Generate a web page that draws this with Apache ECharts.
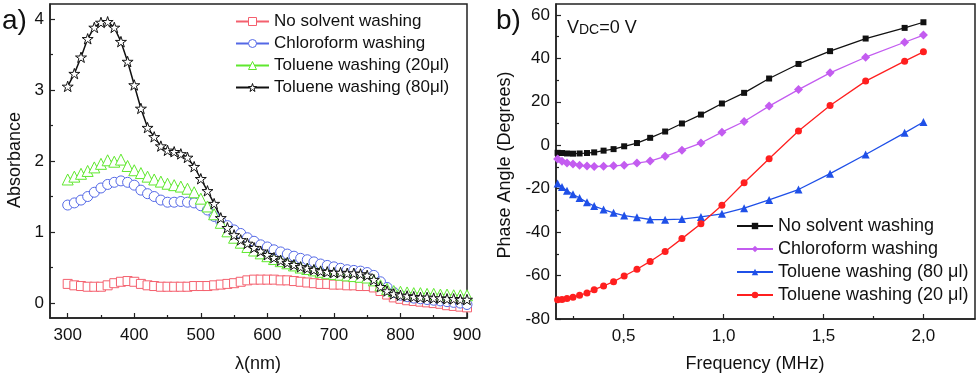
<!DOCTYPE html>
<html><head><meta charset="utf-8">
<script src="https://cdn.jsdelivr.net/npm/echarts@6/dist/echarts.min.js"></script>
<style>html,body{margin:0;padding:0;background:#fff}#c{width:980px;height:380px}</style>
</head><body><div id="c"></div>
<script>
// ---------- Panel a data ----------
const wavelength = [300,310,320,330,340,350,360,370,380,390,400,410,420,430,440,450,460,470,480,490,500,510,520,530,540,550,560,570,580,590,600,610,620,630,640,650,660,670,680,690,700,710,720,730,740,750,760,770,780,790,800,810,820,830,840,850,860,870,880,890,900];
const absNoSolvent = [0.27,0.25,0.24,0.23,0.23,0.23,0.25,0.28,0.30,0.31,0.30,0.27,0.25,0.24,0.23,0.23,0.23,0.23,0.23,0.24,0.24,0.24,0.25,0.26,0.27,0.28,0.30,0.32,0.33,0.33,0.33,0.33,0.32,0.32,0.31,0.30,0.29,0.28,0.27,0.27,0.26,0.26,0.25,0.25,0.24,0.24,0.22,0.17,0.12,0.08,0.06,0.04,0.03,0.02,0.01,0.00,-0.01,-0.03,-0.04,-0.05,-0.06];
const absChloroform = [1.38,1.41,1.45,1.50,1.56,1.62,1.67,1.70,1.72,1.70,1.66,1.59,1.54,1.50,1.45,1.42,1.42,1.43,1.42,1.41,1.37,1.31,1.22,1.15,1.09,1.03,0.98,0.92,0.87,0.82,0.79,0.75,0.72,0.69,0.66,0.63,0.61,0.58,0.55,0.53,0.51,0.49,0.47,0.46,0.45,0.43,0.39,0.30,0.22,0.15,0.11,0.09,0.07,0.06,0.05,0.04,0.03,0.02,0.01,0.00,-0.02];
const absToluene20 = [1.74,1.78,1.82,1.86,1.91,1.96,2.01,1.99,2.02,1.93,1.87,1.83,1.78,1.74,1.71,1.68,1.66,1.64,1.61,1.56,1.47,1.36,1.25,1.13,1.01,0.92,0.85,0.79,0.74,0.70,0.66,0.62,0.59,0.56,0.53,0.50,0.48,0.46,0.44,0.42,0.41,0.40,0.39,0.38,0.37,0.36,0.32,0.25,0.20,0.17,0.16,0.15,0.14,0.14,0.13,0.13,0.12,0.12,0.11,0.11,0.11];
const absToluene80 = [3.05,3.23,3.46,3.72,3.88,3.95,3.96,3.88,3.68,3.40,3.07,2.74,2.47,2.34,2.21,2.15,2.13,2.10,2.05,1.92,1.75,1.58,1.40,1.20,1.06,0.96,0.89,0.84,0.78,0.73,0.68,0.64,0.60,0.57,0.54,0.51,0.49,0.47,0.45,0.44,0.43,0.43,0.42,0.42,0.41,0.39,0.33,0.23,0.17,0.13,0.11,0.10,0.09,0.08,0.08,0.07,0.07,0.06,0.06,0.05,0.05];
const legendA = ['No solvent washing','Chloroform washing','Toluene washing (20\u03bcl)','Toluene washing (80\u03bcl)'];
const xTicksA = [300,400,500,600,700,800,900];
const xMinorA = [350,450,550,650,750,850];
const yTicksA = [0,1,2,3,4];
const yMinorA = [0.5,1.5,2.5,3.5];

// ---------- Panel b data ----------
const frequency = [0.17,0.192,0.217,0.247,0.28,0.317,0.353,0.40,0.45,0.503,0.567,0.633,0.708,0.792,0.887,0.992,1.103,1.228,1.375,1.533,1.711,1.906,2.0];
const phaseNoSolvent = [-3.5,-3.6,-3.8,-3.9,-3.8,-3.6,-3.3,-2.5,-1.8,-0.5,1.0,3.4,6.3,10,14.1,19.2,24.1,30.7,37.4,43.3,49.1,54,56.6];
const phaseChloroform = [-6.3,-7.4,-8.2,-8.7,-9.2,-9.6,-9.8,-9.7,-9.5,-9.2,-8.2,-7.3,-5.1,-2.3,1.0,6,10.9,18,25.6,33.3,40.5,47.4,50.7];
const phaseToluene80 = [-17.6,-19.2,-21,-22.6,-24.3,-26.3,-28,-29.6,-31.1,-32.4,-33.2,-34.2,-34.3,-34,-33,-31.6,-29,-25.2,-20.4,-13.1,-4.3,5.7,10.7];
const phaseToluene20 = [-71.1,-71,-70.6,-70,-69.1,-68,-66.5,-64.8,-62.8,-60.2,-57.1,-53.5,-48.9,-43,-36.2,-27.6,-17.3,-6.2,6.5,18.3,29.5,38.7,43];
const legendB = ['No solvent washing','Chloroform washing','Toluene washing (80 \u03bcl)','Toluene washing (20 \u03bcl)'];
const xTicksB = [0.5,1.0,1.5,2.0];
const xMinorB = [0.25,0.75,1.25,1.75];
const yTicksB = [-80,-60,-40,-20,0,20,40,60];
const yMinorB = [-70,-50,-30,-10,10,30,50];

const FONT = '"Liberation Sans", Arial, sans-serif';
const star = 'path://M0,-1L0.2245,-0.309L0.951,-0.309L0.363,0.118L0.588,0.809L0,0.382L-0.588,0.809L-0.363,0.118L-0.951,-0.309L-0.2245,-0.309Z';
const pair = (xs, ys) => xs.map((x, i) => [x, ys[i]]);
const idsA = ['a0','a1','a2','a3'], idsB = ['b0','b1','b2','b3'];
const nameMap = {};
idsA.forEach((k,i)=>nameMap[k]=legendA[i]);
idsB.forEach((k,i)=>nameMap[k]=legendB[i]);

function vAxis(grid, pos, min, max, ticks, labels, fmt) {
  return {
    type: 'value', gridIndex: grid, position: pos, min: min, max: max,
    axisLine: {show: true, onZero: false, lineStyle: {color: '#222', width: 1.5}},
    axisTick: {show: true, inside: true, length: 5, customValues: ticks, lineStyle: {color: '#222', width: 1.2}},
    axisLabel: {show: true, customValues: labels, color: '#111', fontSize: 17, fontFamily: FONT, margin: pos === 'bottom' ? 9 : 6, formatter: fmt},
    splitLine: {show: false}
  };
}
function minorAxis(grid, pos, min, max, ticks) {
  return {
    type: 'value', gridIndex: grid, position: pos, min: min, max: max,
    axisLine: {show: false, onZero: false},
    axisTick: {show: true, inside: true, length: 3, customValues: ticks, lineStyle: {color: '#222', width: 1.2}},
    axisLabel: {show: false}, splitLine: {show: false}
  };
}
const commaFmt = v => v.toFixed(1).replace('.', ',');

const styleA = [
  {sym: 'rect', size: 9, c: '#f4606e', lw: 1},
  {sym: 'circle', size: 10, c: '#5468e6', lw: 1},
  {sym: 'triangle', size: 11, c: '#5fe82e', lw: 1},
  {sym: star, size: 11, c: '#111', lw: 1.5}
];
const legendDataA = idsA.map((id, i) => ({name: id,
  itemStyle: {color: '#fff', borderColor: styleA[i].c, borderWidth: 1}}));

const chart = echarts.init(document.getElementById('c'), null, {renderer: 'canvas'});
chart.setOption({
  animation: false,
  textStyle: {fontFamily: FONT},
  grid: [
    {left: 50, top: 4, width: 417, height: 314, show: true, borderColor: '#222', borderWidth: 1.5, backgroundColor: 'transparent'},
    {left: 556, top: 4, width: 419, height: 315, show: true, borderColor: '#222', borderWidth: 1.5, backgroundColor: 'transparent'}
  ],
  xAxis: [
    vAxis(0, 'bottom', 273.4, 900, xTicksA, xTicksA),
    minorAxis(0, 'bottom', 273.4, 900, xMinorA),
    vAxis(1, 'bottom', 0.162, 2.258, xTicksB, xTicksB, commaFmt),
    minorAxis(1, 'bottom', 0.162, 2.258, xMinorB)
  ],
  yAxis: [
    vAxis(0, 'left', -0.21, 4.21, yTicksA, yTicksA),
    minorAxis(0, 'left', -0.21, 4.21, yMinorA),
    vAxis(1, 'left', -80, 65, yTicksB, yTicksB),
    minorAxis(1, 'left', -80, 65, yMinorB)
  ],
  legend: [
    {data: legendDataA, left: 230, top: 8, orient: 'vertical', itemWidth: 33, itemHeight: 10, itemGap: 5,
     formatter: n => nameMap[n], textStyle: {fontSize: 17, color: '#111', fontFamily: FONT}, selectedMode: false},
    {data: idsB, left: 731, top: 212, orient: 'vertical', itemWidth: 36, itemHeight: 8, itemGap: 5,
     formatter: n => nameMap[n], textStyle: {fontSize: 18, color: '#111', fontFamily: FONT}, selectedMode: false}
  ],
  series: [
    ...[absNoSolvent, absChloroform, absToluene20, absToluene80].map((arr, i) => ({
      name: idsA[i], type: 'line', xAxisIndex: 0, yAxisIndex: 0, data: pair(wavelength, arr),
      symbol: styleA[i].sym, symbolSize: styleA[i].size, symbolKeepAspect: true,
      lineStyle: {color: styleA[i].c, width: styleA[i].lw},
      itemStyle: {color: '#fff', borderColor: styleA[i].c, borderWidth: 1}
    })),
    {name: 'b0', type: 'line', xAxisIndex: 2, yAxisIndex: 2, data: pair(frequency, phaseNoSolvent),
     symbol: 'rect', symbolSize: 6, lineStyle: {color: '#111', width: 1.3}, itemStyle: {color: '#111'}},
    {name: 'b1', type: 'line', xAxisIndex: 2, yAxisIndex: 2, data: pair(frequency, phaseChloroform),
     symbol: 'diamond', symbolSize: 9, lineStyle: {color: '#c35cf0', width: 1.3}, itemStyle: {color: '#c35cf0'}},
    {name: 'b2', type: 'line', xAxisIndex: 2, yAxisIndex: 2, data: pair(frequency, phaseToluene80),
     symbol: 'triangle', symbolSize: 8, lineStyle: {color: '#1f50e8', width: 1.3}, itemStyle: {color: '#1f50e8'}},
    {name: 'b3', type: 'line', xAxisIndex: 2, yAxisIndex: 2, data: pair(frequency, phaseToluene20),
     symbol: 'circle', symbolSize: 7, lineStyle: {color: '#ff1f1f', width: 1.3}, itemStyle: {color: '#ff1f1f'}}
  ],
  graphic: [
    {type: 'text', left: 2, top: 7, style: {text: 'a)', fontSize: 28, fill: '#111', fontFamily: FONT}},
    {type: 'text', left: 496, top: 7, style: {text: 'b)', fontSize: 28, fill: '#111', fontFamily: FONT}},
    {type: 'text', x: 15, y: 160, rotation: Math.PI / 2, style: {text: 'Absorbance', fontSize: 18, fill: '#111', fontFamily: FONT, align: 'center', verticalAlign: 'middle'}},
    {type: 'text', x: 258, y: 364, style: {text: '\u03bb(nm)', fontSize: 18, fill: '#111', fontFamily: FONT, align: 'center', verticalAlign: 'middle'}},
    {type: 'text', x: 505, y: 165, rotation: Math.PI / 2, style: {text: 'Phase Angle (Degrees)', fontSize: 18, fill: '#111', fontFamily: FONT, align: 'center', verticalAlign: 'middle'}},
    {type: 'text', x: 755, y: 364, style: {text: 'Frequency (MHz)', fontSize: 18, fill: '#111', fontFamily: FONT, align: 'center', verticalAlign: 'middle'}},
    {type: 'text', left: 567, top: 15, style: {text: '{v|V}{s|DC}{v|=0 V}', fill: '#111', fontFamily: FONT,
      rich: {v: {fontSize: 18, fontFamily: FONT, fill: '#111', verticalAlign: 'bottom', lineHeight: 22}, s: {fontSize: 14, fontFamily: FONT, fill: '#111', padding: [8, 0, 0, 0], verticalAlign: 'bottom', lineHeight: 22}}}}
  ]
});
</script>
</body></html>
